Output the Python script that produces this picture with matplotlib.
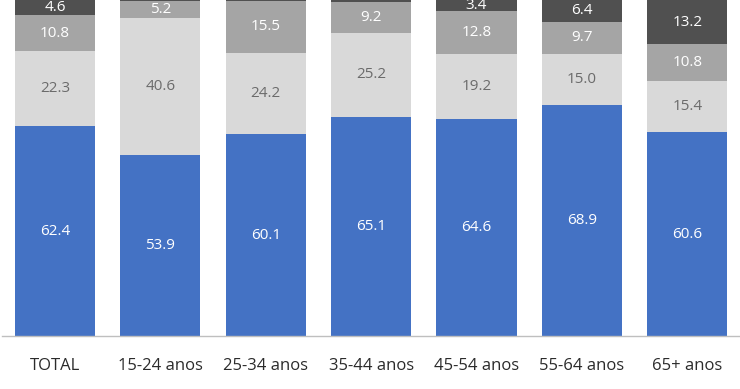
import matplotlib
matplotlib.use("Agg")
from matplotlib import pyplot as plt
import numpy as np

categorias = ["TOTAL", "15-24 anos", "25-34 anos", "35-44 anos", "45-54 anos", "55-64 anos", "65+ anos"]
serie_1 = [62.4, 53.9, 60.1, 65.1, 64.6, 68.9, 60.6]
serie_2 = [22.3, 40.6, 24.2, 25.2, 19.2, 15.0, 15.4]
serie_3 = [10.8, 5.2, 15.5, 9.2, 12.8, 9.7, 10.8]
serie_4 = [4.6, 0.3, 0.2, 0.5, 3.4, 6.4, 13.2]

series = [serie_1, serie_2, serie_3, serie_4]
cores = ["#4472C4", "#D9D9D9", "#A5A5A5", "#505050"]
cores_texto = ["white", "#6b6b6b", "white", "white"]

plt.rcParams["font.family"] = ["Open Sans", "DejaVu Sans"]

fig = plt.figure(figsize=(7.4, 3.89), dpi=100)
ax = fig.add_axes((0.003, 0.136, 0.997, 0.864))

x = np.arange(len(categorias))
base = np.zeros(len(categorias))
for valores, cor, cor_txt in zip(series, cores, cores_texto):
    valores = np.array(valores)
    ax.bar(x, valores, bottom=base, width=0.76, color=cor, zorder=2)
    for xi, b, v in zip(x, base, valores):
        if v >= 1:
            ax.text(xi, b + v / 2, f"{v:.1f}", ha="center", va="center",
                    fontsize=11, color=cor_txt, zorder=3)
    base = base + valores

ax.set_xlim(-0.5, 6.5)
ax.set_ylim(0, 100)
ax.set_yticks([])
ax.set_xticks(x)
ax.set_xticklabels(categorias, fontsize=12, color="#2b2b2b")
ax.tick_params(axis="x", length=0, pad=16)
for lado in ["top", "right", "left"]:
    ax.spines[lado].set_visible(False)
ax.spines["bottom"].set_color("#BFBFBF")
ax.spines["bottom"].set_linewidth(1)

fig.savefig("out.png", dpi=100, facecolor="white")
